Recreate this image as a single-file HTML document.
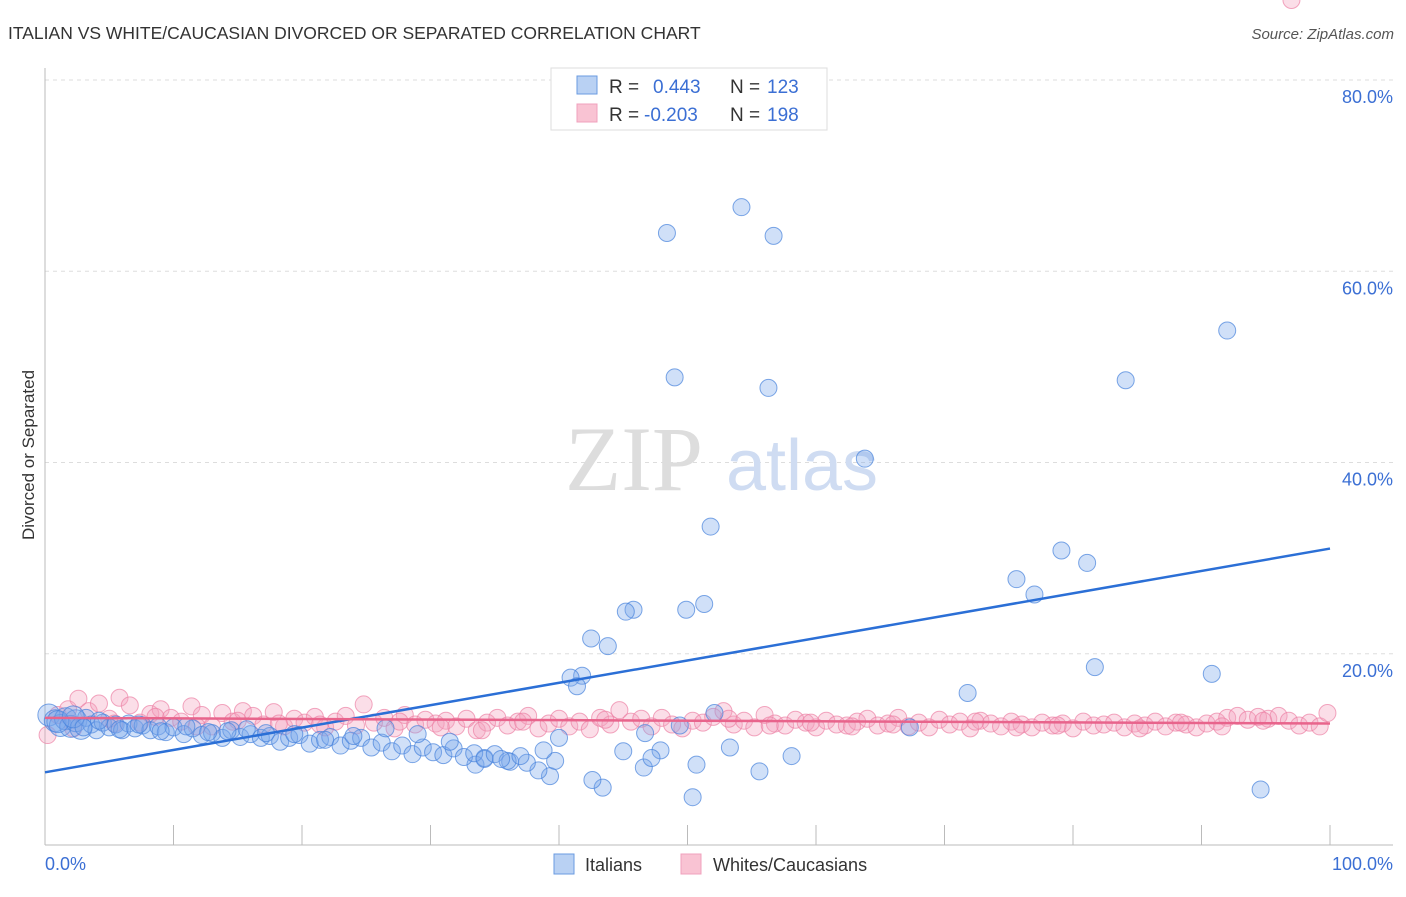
<!DOCTYPE html>
<html><head><meta charset="utf-8"><style>
body{margin:0;background:#fff;width:1406px;height:892px;overflow:hidden;font-family:"Liberation Sans",sans-serif}
</style></head><body>
<svg id="chart" width="1406" height="892">
<text x="8" y="39" font-size="17.5" fill="#333">ITALIAN VS WHITE/CAUCASIAN DIVORCED OR SEPARATED CORRELATION CHART</text>
<text x="1394" y="39" font-size="15" fill="#555" text-anchor="end" font-style="italic">Source: ZipAtlas.com</text>
<g id="grid"></g>
<text x="634" y="490" font-size="92" fill="#ddd" font-family="Liberation Serif" text-anchor="middle">ZIP</text>
<text x="802" y="490" font-size="72" fill="#cfdcf2" text-anchor="middle">atlas</text>
<g id="pts"></g>
<g id="lines"></g>
<text transform="translate(34,455) rotate(-90)" font-size="17" fill="#333" text-anchor="middle">Divorced or Separated</text>
<text x="45" y="870" font-size="18" fill="#3b6fd4">0.0%</text>
<text x="1393" y="870" font-size="18" fill="#3b6fd4" text-anchor="end">100.0%</text>
<g>
<rect x="551" y="68" width="276" height="62" fill="#fff" stroke="#ddd"/>
<rect x="577" y="76" width="20" height="18" fill="#b9d1f3" stroke="#6a9be0"/>
<rect x="577" y="104" width="20" height="18" fill="#f9c3d3" stroke="#f0a0bc"/>
<text x="609" y="93" font-size="19" fill="#333">R = </text><text x="653" y="93" font-size="19" fill="#3b6fd4">0.443</text>
<text x="730" y="93" font-size="19" fill="#333">N = </text><text x="767" y="93" font-size="19" fill="#3b6fd4">123</text>
<text x="609" y="121" font-size="19" fill="#333">R = </text><text x="644" y="121" font-size="19" fill="#3b6fd4">-0.203</text>
<text x="730" y="121" font-size="19" fill="#333">N = </text><text x="767" y="121" font-size="19" fill="#3b6fd4">198</text>
</g>
<g>
<rect x="554" y="854" width="20" height="20" fill="#b9d1f3" stroke="#6a9be0"/>
<text x="585" y="871" font-size="18" fill="#333">Italians</text>
<rect x="681" y="854" width="20" height="20" fill="#f9c3d3" stroke="#f0a0bc"/>
<text x="713" y="871" font-size="18" fill="#333">Whites/Caucasians</text>
</g>
</svg>
<script>
const yTicks=[20,40,60,80];
const xTicks=[0,10,20,30,40,50,60,70,80,90,100];
const blueX=[54.2,48.4,56.7,92.0,49.0,56.3,84.1,63.8,51.8,79.1,81.1,75.6,77.0,51.3,49.9,45.8,45.2,42.5,43.8,81.7,41.8,40.9,41.4,90.8,71.8,94.6,50.4,43.4,42.6,55.6,50.7,46.6,58.1,53.3,45.0,47.9,47.2,39.3,38.4,37.5,39.7,38.8,36.2,33.5,34.2,52.1,67.3,49.4,46.7,
0.3,0.8,1.2,1.6,2.0,2.4,2.8,3.2,3.6,4.0,4.5,5.0,5.5,6.0,6.5,7.0,7.6,8.2,8.8,9.4,10.0,10.8,11.5,12.2,13.0,13.8,14.5,15.2,16.0,16.8,17.5,18.3,19.0,19.8,20.6,21.4,22.2,23.0,23.8,24.6,25.4,26.2,27.0,27.8,28.6,29.4,30.2,31.0,31.8,32.6,33.4,34.2,35.0,36.0,37.0,29.0,31.5,26.5,35.5,40.0,1.0,2.2,3.0,4.2,5.8,7.3,9.0,11.0,12.7,14.2,15.7,17.2,19.4,21.8,24.0];
const blueY=[66.7,64.0,63.7,53.8,48.9,47.8,48.6,40.4,33.3,30.8,29.5,27.8,26.2,25.2,24.6,24.6,24.4,21.6,20.8,18.6,17.7,17.5,16.6,17.9,15.9,5.8,5.0,6.0,6.8,7.7,8.4,8.1,9.3,10.2,9.8,9.9,9.1,7.2,7.8,8.6,8.8,9.9,8.7,8.4,9.1,13.8,12.3,12.5,11.7,
13.6,13.0,12.5,13.2,12.4,13.0,12.2,13.3,12.6,12.0,12.8,12.3,12.6,12.0,12.7,12.2,12.5,12.0,12.4,11.8,12.3,11.6,12.2,11.5,11.7,11.2,12.0,11.3,11.6,11.2,11.4,10.8,11.2,11.5,10.6,11.0,11.3,10.4,10.9,11.2,10.2,10.7,9.8,10.4,9.5,10.2,9.7,9.4,10.1,9.2,9.6,9.0,9.5,8.8,9.3,11.6,10.8,12.2,9.0,11.2,12.9,13.4,12.3,13.0,12.1,12.6,11.9,12.4,11.8,11.9,12.1,11.7,11.6,11.0,11.4];
const pinkX=[0.2,1.0,1.8,2.6,3.4,4.2,5.0,5.8,6.6,7.4,8.2,9.0,9.8,10.6,11.4,12.2,13.0,13.8,14.6,15.4,16.2,17.0,17.8,18.6,19.4,20.2,21.0,21.8,22.6,23.4,24.2,24.8,25.6,26.4,27.2,28.0,28.8,29.6,30.4,31.2,32.0,32.8,33.6,34.4,35.2,36.0,36.8,37.6,38.4,39.2,40.0,40.8,41.6,42.4,43.2,44.0,44.7,45.6,46.4,47.2,48.0,48.8,49.6,50.4,51.2,52.0,52.8,53.6,54.4,55.2,56.0,56.8,57.6,58.4,59.2,60.0,60.8,61.6,62.4,63.2,64.0,64.8,65.6,66.4,67.2,68.0,68.8,69.6,70.4,71.2,72.0,72.8,73.6,74.4,75.2,76.0,76.8,77.6,78.4,79.2,80.0,80.8,81.6,82.4,83.2,84.0,84.8,85.6,86.4,87.2,88.0,88.8,89.6,90.4,91.2,92.0,92.8,93.6,94.4,95.2,96.0,96.8,97.6,98.4,99.2,99.8,2.2,5.4,8.6,11.8,15.0,18.2,21.4,27.6,30.8,34.0,37.2,43.6,53.2,56.4,59.6,62.8,66.0,72.4,75.6,78.8,85.2,88.4,91.6,94.8,97.0];
const pinkY=[11.5,13.6,14.2,15.3,14.0,14.8,13.2,15.4,14.6,12.8,13.7,14.2,13.3,12.9,14.5,13.6,12.4,13.8,12.9,14.0,13.5,12.6,13.9,12.4,13.2,12.8,13.4,12.3,12.9,13.5,12.5,14.7,12.8,13.3,12.2,13.6,12.6,13.1,12.7,13.0,12.4,13.2,12.0,12.8,13.3,12.5,12.9,13.5,12.2,12.7,13.2,12.4,12.9,12.1,13.3,12.6,14.1,12.9,13.2,12.4,13.3,12.6,12.2,13.0,12.8,13.4,14.0,12.6,13.0,12.3,13.6,12.7,12.5,13.1,12.8,12.3,13.0,12.6,12.5,12.9,13.2,12.5,12.7,13.3,12.4,12.8,12.3,13.1,12.6,12.9,12.2,13.0,12.7,12.4,12.9,12.6,12.3,12.8,12.5,12.7,12.2,12.9,12.5,12.6,12.8,12.3,12.7,12.5,12.9,12.4,12.8,12.6,12.3,12.7,12.9,13.3,13.5,13.1,13.4,13.2,13.5,13.0,12.5,12.8,12.4,13.8,12.2,12.7,13.4,12.4,13.0,12.7,12.6,12.9,12.3,12.0,12.9,13.1,13.2,12.5,12.8,12.4,12.6,12.9,12.3,12.5,12.2,12.8,12.4,13.0];
const blueLine=[7.6,31.0];
const pinkLine=[13.3,12.7];
const X0=45,X1=1330,Y0=845,PPY=9.5625;
const xs=v=>X0+(X1-X0)*v/100, ys=v=>Y0-v*PPY;
const NS='http://www.w3.org/2000/svg';
function mk(t,a,p){const e=document.createElementNS(NS,t);for(const k in a)e.setAttribute(k,a[k]);p.appendChild(e);return e;}
const grid=document.getElementById('grid');
yTicks.forEach(t=>{
 const l=mk('line',{x1:45,x2:1393,y1:ys(t),y2:ys(t),stroke:'#ddd','stroke-dasharray':'4,4'},grid);
 
 
 const tx=mk('text',{x:1393,y:ys(t)+23,'font-size':18,fill:'#3b6fd4','text-anchor':'end'},grid);
 tx.textContent=t.toFixed(1)+'%';
 
 
});
const ax=mk('line',{x1:45,x2:1393,y1:845,y2:845,stroke:'#bbb'},grid);


const ay=mk('line',{x1:45,x2:45,y1:68,y2:845,stroke:'#bbb'},grid);


xTicks.forEach(t=>{
 const l=mk('line',{x1:xs(t),x2:xs(t),y1:825,y2:845,stroke:'#bbb'},grid);
 
 
});
const pts=document.getElementById('pts');
pinkX.forEach((x,i)=>{
 const c=mk('circle',{cx:xs(x),cy:ys(pinkY[i]),r:8.5,fill:'rgba(244,160,190,0.35)',stroke:'rgba(236,130,165,0.7)','stroke-width':1},pts);
 
 
});
blueX.forEach((x,i)=>{
 const r=(x<3)?11:8.5;
 const c=mk('circle',{cx:xs(x),cy:ys(blueY[i]),r:r,fill:'rgba(120,165,235,0.35)',stroke:'rgba(70,130,220,0.7)','stroke-width':1},pts);
 
 
});
const lines=document.getElementById('lines');
const bl=mk('line',{x1:xs(0),x2:xs(100),y1:ys(blueLine[0]),y2:ys(blueLine[1]),stroke:'#2b6fd6','stroke-width':2.5},lines);


const pl=mk('line',{x1:xs(0),x2:xs(100),y1:ys(pinkLine[0]),y2:ys(pinkLine[1]),stroke:'#e8648c','stroke-width':2.5},lines);


</script>
</body></html>
